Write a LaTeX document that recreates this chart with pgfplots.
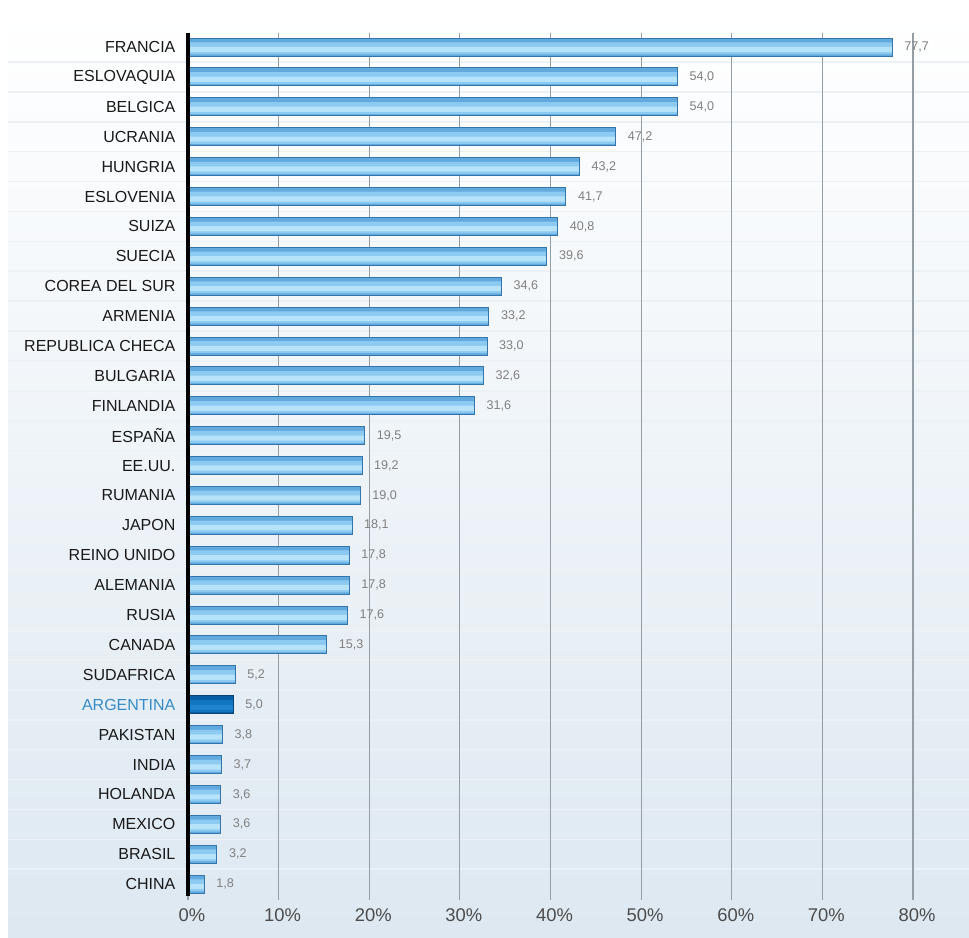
\documentclass[border=0pt]{standalone}
\usepackage{pgfplots}
\pgfplotsset{compat=1.18}
\usepackage{fontspec}
\setmainfont{Liberation Sans}
\definecolor{bgbot}{RGB}{221,232,241}
\definecolor{sep}{RGB}{236,241,246}
\definecolor{gridc}{RGB}{150,158,165}
\definecolor{barbase}{RGB}{98,170,222}
\definecolor{barmid}{RGB}{140,202,241}
\definecolor{barhi}{RGB}{182,226,250}
\definecolor{baredge}{RGB}{52,118,172}
\definecolor{argbase}{RGB}{8,95,165}
\definecolor{argmid}{RGB}{18,118,192}
\definecolor{arghi}{RGB}{30,132,205}
\definecolor{argedge}{RGB}{8,68,120}
\definecolor{arglab}{RGB}{55,140,200}
\pgfplotstableread{
y x
0 77.7
1 54.0
2 54.0
3 47.2
4 43.2
5 41.7
6 40.8
7 39.6
8 34.6
9 33.2
10 33.0
11 32.6
12 31.6
13 19.5
14 19.2
15 19.0
16 18.1
17 17.8
18 17.8
19 17.6
20 15.3
21 5.2
23 3.8
24 3.7
25 3.6
26 3.6
27 3.2
28 1.8
}\others
\pgfplotstableread{
y x
22 5.0
}\argentina
\begin{document}
\begin{tikzpicture}
\useasboundingbox (0,0) rectangle (484.5pt,468.5pt);
\shade[top color=white, bottom color=bgbot] (4pt,0pt) rectangle (484.5pt,463.5pt);
\foreach \k in {0,...,27} {
  \draw[sep, line width=0.8pt] (4pt,{437.525pt-14.95pt*\k}) -- (484.5pt,{437.525pt-14.95pt*\k});
}
\begin{axis}[
  at={(94pt,18.5pt)}, anchor=south west,
  scale only axis,
  width=362.5pt, height=433.5pt,
  xmin=0, xmax=80,
  ymin=-0.47, ymax=28.53,
  y dir=reverse,
  xbar, bar width=9pt, bar shift=0pt,
  axis x line*=bottom,
  axis y line*=left,
  x axis line style={draw=none},
  y axis line style={draw=none},
  tick style={draw=none},
  xtick={0,10,...,80},
  xticklabels={0\%,10\%,20\%,30\%,40\%,50\%,60\%,70\%,80\%},
  xticklabel style={font=\fontsize{9.2}{10}\selectfont, text=black!70, yshift=-1pt, xshift=2pt},
  ytick={0,...,28},
  yticklabels={FRANCIA,ESLOVAQUIA,BELGICA,UCRANIA,HUNGRIA,ESLOVENIA,SUIZA,SUECIA,COREA DEL SUR,ARMENIA,REPUBLICA CHECA,BULGARIA,FINLANDIA,ESPAÑA,EE.UU.,RUMANIA,JAPON,REINO UNIDO,ALEMANIA,RUSIA,CANADA,SUDAFRICA,{\color{arglab}ARGENTINA},PAKISTAN,INDIA,HOLANDA,MEXICO,BRASIL,CHINA},
  yticklabel style={font=\fontsize{8}{9}\selectfont, text=black!90, xshift=1.5pt},
  xmajorgrids,
  grid style={gridc, line width=0.6pt},
  clip=false,
  point meta=x,
]
% light bars: base, mid band, highlight band, edge
\addplot[draw=none, fill=barbase] table[x=x,y=y] {\others};
\addplot[draw=none, fill=barmid, bar width=6pt, bar shift=-0.6pt] table[x=x,y=y] {\others};
\addplot[draw=none, fill=barhi, bar width=2.6pt, bar shift=-1.2pt] table[x=x,y=y] {\others};
\addplot[draw=baredge, line width=0.5pt, fill=none,
  nodes near coords,
  nodes near coords style={font=\fontsize{6.3}{7}\selectfont, text=black!50, xshift=2.5pt,
    /pgf/number format/.cd, fixed, fixed zerofill, precision=1, use comma, assume math mode=true}]
  table[x=x,y=y] {\others};
% Argentina
\addplot[draw=none, fill=argbase] table[x=x,y=y] {\argentina};
\addplot[draw=none, fill=argmid, bar width=6pt, bar shift=-0.6pt] table[x=x,y=y] {\argentina};
\addplot[draw=none, fill=arghi, bar width=2.6pt, bar shift=-1.2pt] table[x=x,y=y] {\argentina};
\addplot[draw=argedge, line width=0.5pt, fill=none,
  nodes near coords,
  nodes near coords style={font=\fontsize{6.3}{7}\selectfont, text=black!50, xshift=2.5pt,
    /pgf/number format/.cd, fixed, fixed zerofill, precision=1, use comma, assume math mode=true}]
  table[x=x,y=y] {\argentina};
\draw[black, line width=2.2pt] (axis cs:0,-0.47) -- (axis cs:0,28.4);
\end{axis}
\end{tikzpicture}
\end{document}
